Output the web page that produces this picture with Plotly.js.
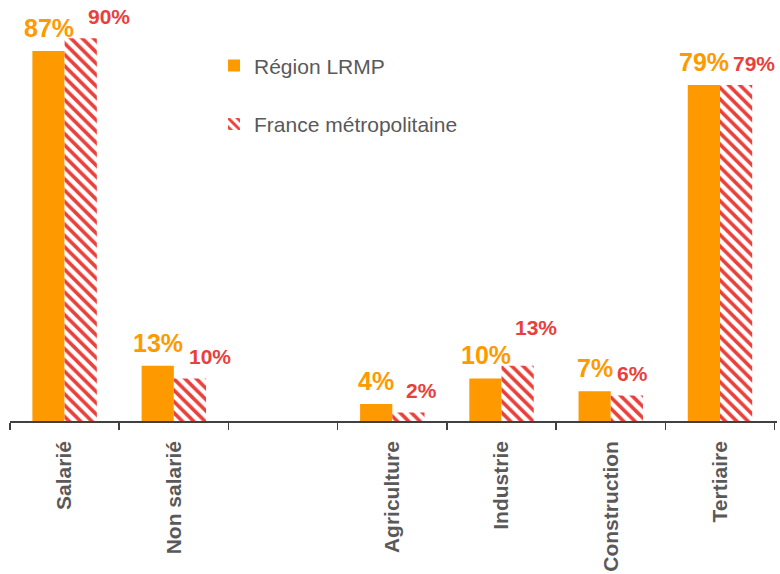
<!DOCTYPE html>
<html>
<head>
<meta charset="utf-8">
<script src="https://cdn.plot.ly/plotly-3.0.1.min.js"></script>
<style>html,body{margin:0;padding:0;background:#fff;}#chart{width:780px;height:574px;}</style>
</head>
<body>
<div id="chart"></div>
<script>
// Data
const categories = ["Salarié", "Non salarié", " ", "Agriculture", "Industrie", "Construction", "Tertiaire"];
const regionLRMP = [87, 13, null, 4, 10, 7, 79];
const franceMetro = [90, 10, null, 2, 13, 6, 79];
const seriesNames = ["Région LRMP", "France métropolitaine"];

// Styling
const ORANGE = "#FF9900";
const RED = "#E8413C";
const GRAY = "#595959";
const FONT = "Liberation Sans, Arial, sans-serif";
// manual nudges of the red value labels (px), as in the original
const redNudgeX = [28, 20, 0, 13, 18, 6, 18];
const redNudgeY = [0, 0, 0, 0, 16, 0, 0];

const traces = [
  {
    type: "bar", name: seriesNames[0], x: categories, y: regionLRMP,
    marker: {color: ORANGE, line: {width: 0}},
    legendgroup: "a", hoverinfo: "skip"
  },
  {
    type: "bar", name: seriesNames[1], x: categories, y: franceMetro,
    marker: {color: "#ffffff", line: {width: 0},
      pattern: {shape: "\\", fgcolor: RED, bgcolor: "#ffffff", size: 8, solidity: 0.45}},
    legendgroup: "b", hoverinfo: "skip"
  }
];

const annotations = [];
categories.forEach((c, i) => {
  if (regionLRMP[i] != null) {
    annotations.push({x: c, y: regionLRMP[i], xref: "x", yref: "y", text: regionLRMP[i] + "%",
      showarrow: false, xshift: -16, yshift: 23, yanchor: "middle",
      font: {family: FONT, size: 25, color: ORANGE, weight: "bold"}});
  }
  if (franceMetro[i] != null) {
    annotations.push({x: c, y: franceMetro[i], xref: "x", yref: "y", text: franceMetro[i] + "%",
      showarrow: false, xshift: 16 + redNudgeX[i], yshift: 22 + redNudgeY[i], yanchor: "middle",
      font: {family: FONT, size: 21, color: RED, weight: "bold"}});
  }
});

const layout = {
  width: 780, height: 574,
  margin: {l: 10, r: 3, t: 0, b: 153},
  paper_bgcolor: "#ffffff", plot_bgcolor: "#ffffff",
  barmode: "group", bargap: 0.41, bargroupgap: 0,
  showlegend: true,
  legend: {x: 0.266, y: 0.892, xanchor: "left", yanchor: "top",
    font: {family: FONT, size: 21, color: GRAY},
    traceorder: "grouped", tracegroupgap: 28, bgcolor: "rgba(0,0,0,0)"},
  xaxis: {
    type: "category", tickson: "boundaries", ticks: "outside", ticklen: 7, tickwidth: 1.5,
    tickcolor: "#404040", showline: true, linecolor: "#404040", linewidth: 1.7,
    tickangle: -90, showgrid: false, zeroline: false, ticklabelstandoff: 10,
    tickfont: {family: FONT, size: 21, color: GRAY, weight: "bold"}
  },
  yaxis: {range: [0, 99], visible: false, showgrid: false, zeroline: false},
  annotations: annotations
};

Plotly.newPlot("chart", traces, layout, {staticPlot: true, displayModeBar: false});
</script>
</body>
</html>
